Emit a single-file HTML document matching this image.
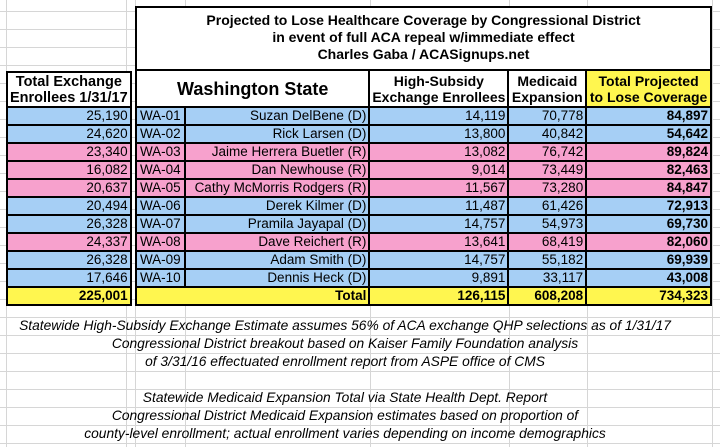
<!DOCTYPE html>
<html><head><meta charset="utf-8"><style>
html,body{margin:0;padding:0;}
body{width:720px;height:447px;position:relative;overflow:hidden;background:#fff;font-family:"Liberation Sans",Arial,sans-serif;
background-image:
linear-gradient(to bottom,#d6d6d6 1px,transparent 1px),
linear-gradient(to right,transparent 6px,#d6d6d6 6px,#d6d6d6 7px,transparent 7px,transparent 126px,#d6d6d6 126px,#d6d6d6 127px,transparent 127px,transparent 135px,#d6d6d6 135px,#d6d6d6 136px,transparent 136px,transparent 185px,#d6d6d6 185px,#d6d6d6 186px,transparent 186px,transparent 370px,#d6d6d6 370px,#d6d6d6 371px,transparent 371px,transparent 509px,#d6d6d6 509px,#d6d6d6 510px,transparent 510px,transparent 587px,#d6d6d6 587px,#d6d6d6 588px,transparent 588px,transparent 712px,#d6d6d6 712px,#d6d6d6 713px,transparent 713px);
background-size:720px 18px,720px 447px;background-position:0 11px,0 0;background-repeat:repeat-y,no-repeat;}
table{position:absolute;border-collapse:collapse;font-size:13.5px;color:#000;}
tr{height:18px}
td{border:2px solid #000;padding:0 2px;line-height:14px;white-space:nowrap;text-align:right;}
.b{background:#a6cff5}.p{background:#f7a1cd}.y{background:#fff64f}
tr.h{height:35px}
.h td{line-height:16px;text-align:center;font-weight:bold;font-size:14px;background:#fff}
.bold td,.bo{font-weight:bold}
.c{text-align:center}
#title{position:absolute;left:135px;top:6px;width:573px;height:57px;border:2px solid #000;border-bottom:none;background:#fff;text-align:center;font-weight:bold;font-size:14px;line-height:17px;padding-top:4px}
.note{position:absolute;left:0;width:690px;text-align:center;font-style:italic;font-size:13.8px;line-height:18px}
</style></head><body>
<div id="title">Projected to Lose Healthcare Coverage by Congressional District<br>in event of full ACA repeal w/immediate effect<br>Charles Gaba / ACASignups.net</div>

<table style="left:6px;top:71px;width:121px">
<tr class="h"><td style="font-size:14.5px">Total Exchange<br>Enrollees 1/31/17</td></tr>
<tr><td class="b">25,190</td></tr>
<tr><td class="b">24,620</td></tr>
<tr><td class="p">23,340</td></tr>
<tr><td class="p">16,082</td></tr>
<tr><td class="p">20,637</td></tr>
<tr><td class="b">20,494</td></tr>
<tr><td class="b">26,328</td></tr>
<tr><td class="p">24,337</td></tr>
<tr><td class="b">26,328</td></tr>
<tr><td class="b">17,646</td></tr>
<tr class="bold"><td class="y">225,001</td></tr>
</table>

<table style="left:135px;top:69px;width:577px">
<colgroup><col style="width:49px"><col style="width:186px"><col style="width:139px"><col style="width:78px"><col style="width:125px"></colgroup>
<tr class="h" style="height:37px"><td colspan="2" style="font-size:18px">Washington State</td><td>High-Subsidy<br>Exchange Enrollees</td><td>Medicaid<br>Expansion</td><td style="background:#fff64f">Total Projected<br>to Lose Coverage</td></tr>
<tr class="b"><td class="c">WA-01</td><td>Suzan DelBene (D)</td><td>14,119</td><td>70,778</td><td class="bo">84,897</td></tr>
<tr class="b"><td class="c">WA-02</td><td>Rick Larsen (D)</td><td>13,800</td><td>40,842</td><td class="bo">54,642</td></tr>
<tr class="p"><td class="c">WA-03</td><td>Jaime Herrera Buetler (R)</td><td>13,082</td><td>76,742</td><td class="bo">89,824</td></tr>
<tr class="p"><td class="c">WA-04</td><td>Dan Newhouse (R)</td><td>9,014</td><td>73,449</td><td class="bo">82,463</td></tr>
<tr class="p"><td class="c">WA-05</td><td>Cathy McMorris Rodgers (R)</td><td>11,567</td><td>73,280</td><td class="bo">84,847</td></tr>
<tr class="b"><td class="c">WA-06</td><td>Derek Kilmer (D)</td><td>11,487</td><td>61,426</td><td class="bo">72,913</td></tr>
<tr class="b"><td class="c">WA-07</td><td>Pramila Jayapal (D)</td><td>14,757</td><td>54,973</td><td class="bo">69,730</td></tr>
<tr class="p"><td class="c">WA-08</td><td>Dave Reichert (R)</td><td>13,641</td><td>68,419</td><td class="bo">82,060</td></tr>
<tr class="b"><td class="c">WA-09</td><td>Adam Smith (D)</td><td>14,757</td><td>55,182</td><td class="bo">69,939</td></tr>
<tr class="b"><td class="c">WA-10</td><td>Dennis Heck (D)</td><td>9,891</td><td>33,117</td><td class="bo">43,008</td></tr>
<tr class="y bold"><td colspan="2">Total</td><td>126,115</td><td>608,208</td><td>734,323</td></tr>
</table>

<div class="note" style="top:317px">Statewide High-Subsidy Exchange Estimate assumes 56% of ACA exchange QHP selections as of 1/31/17</div>
<div class="note" style="top:335px">Congressional District breakout based on Kaiser Family Foundation analysis</div>
<div class="note" style="top:353px">of 3/31/16 effectuated enrollment report from ASPE office of CMS</div>
<div class="note" style="top:389px">Statewide Medicaid Expansion Total via State Health Dept. Report</div>
<div class="note" style="top:407px">Congressional District Medicaid Expansion estimates based on proportion of</div>
<div class="note" style="top:425px">county-level enrollment; actual enrollment varies depending on income demographics</div>
</body></html>
